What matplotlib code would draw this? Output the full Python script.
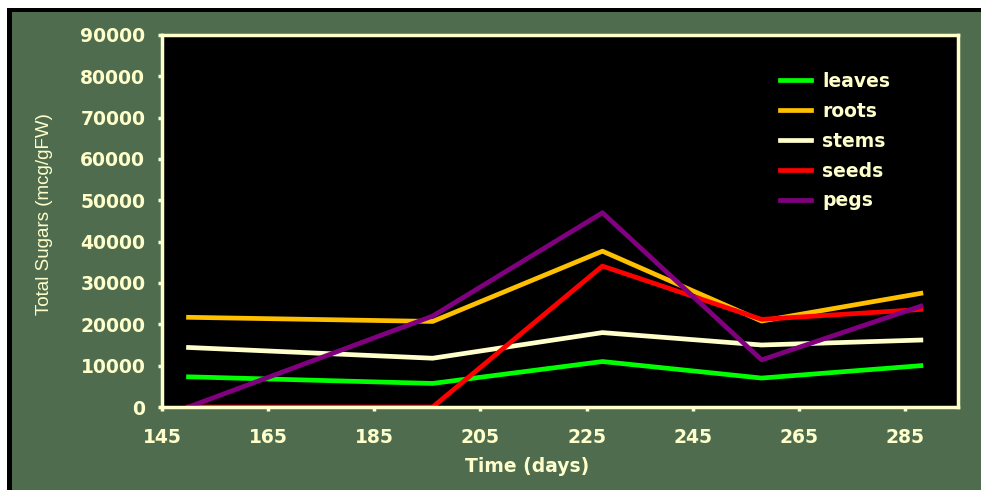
import matplotlib
matplotlib.use('Agg')
import matplotlib.pyplot as plt
from matplotlib.patches import Rectangle

# Data
days = [150, 196, 228, 258, 288]
leaves = [7300, 5700, 11000, 7000, 10000]
roots = [21700, 20700, 37700, 20800, 27500]
stems = [14400, 11800, 18000, 15000, 16200]
seeds = [0, 0, 34100, 21200, 23600]
pegs = [0, 22000, 47000, 11400, 24400]

x_ticks = [145, 165, 185, 205, 225, 245, 265, 285]
y_ticks = [0, 10000, 20000, 30000, 40000, 50000, 60000, 70000, 80000, 90000]

bg = '#4f6d4e'
cream = '#ffffcc'

fig = plt.figure(figsize=(9.81, 4.9), dpi=100, facecolor=bg)

# white strip and black frame at top / left edge
fig.patches.append(Rectangle((0, 1 - 8 / 490), 1, 8 / 490, transform=fig.transFigure,
                             facecolor='white', edgecolor='none', zorder=0))
fig.patches.append(Rectangle((0, 1 - 12 / 490), 1, 4 / 490, transform=fig.transFigure,
                             facecolor='black', edgecolor='none', zorder=0))
fig.patches.append(Rectangle((0, 0), 7 / 981, 1, transform=fig.transFigure,
                             facecolor='white', edgecolor='none', zorder=0))
fig.patches.append(Rectangle((7 / 981, 0), 5 / 981, 1 - 8 / 490, transform=fig.transFigure,
                             facecolor='black', edgecolor='none', zorder=0))

ax = fig.add_axes([162 / 981, 83 / 490, 796 / 981, 372 / 490])
ax.set_facecolor('black')

lw = 3.4
ax.plot(days, leaves, color='#00ff00', lw=lw, label='leaves')
ax.plot(days, roots, color='#ffc000', lw=lw, label='roots')
ax.plot(days, stems, color=cream, lw=lw, label='stems')
ax.plot(days, seeds, color='#ff0000', lw=lw, label='seeds')
ax.plot(days, pegs, color='#800080', lw=lw, label='pegs')

ax.set_xlim(145, 295)
ax.set_ylim(0, 90000)
ax.set_xticks(x_ticks)
ax.set_yticks(y_ticks)

for s in ax.spines.values():
    s.set_color(cream)
    s.set_linewidth(2.5)

ax.tick_params(colors=cream, width=2.5, length=3, labelsize=13.5, pad=9)
ax.tick_params(axis='x', pad=12)
for lab in ax.get_xticklabels() + ax.get_yticklabels():
    lab.set_fontweight('bold')
    lab.set_family('DejaVu Sans')

ax.set_xlabel('Time (days)', color=cream, fontsize=13.5, fontweight='bold',
              family='DejaVu Sans')
ax.set_ylabel('Total Sugars (mcg/gFW)', color=cream, fontsize=13.5,
              family='Liberation Sans')
ax.xaxis.set_label_coords(0.4585, -0.134)
ax.yaxis.set_label_coords(-0.137, 0.519)

leg = ax.legend(loc='upper left', bbox_to_anchor=(0.755, 0.946), frameon=False,
                prop={'family': 'DejaVu Sans', 'weight': 'bold', 'size': 13.5},
                handlelength=1.65, labelspacing=0.58, handletextpad=0.6)
for t in leg.get_texts():
    t.set_color(cream)

fig.savefig('out.png', dpi=100, facecolor=bg)
